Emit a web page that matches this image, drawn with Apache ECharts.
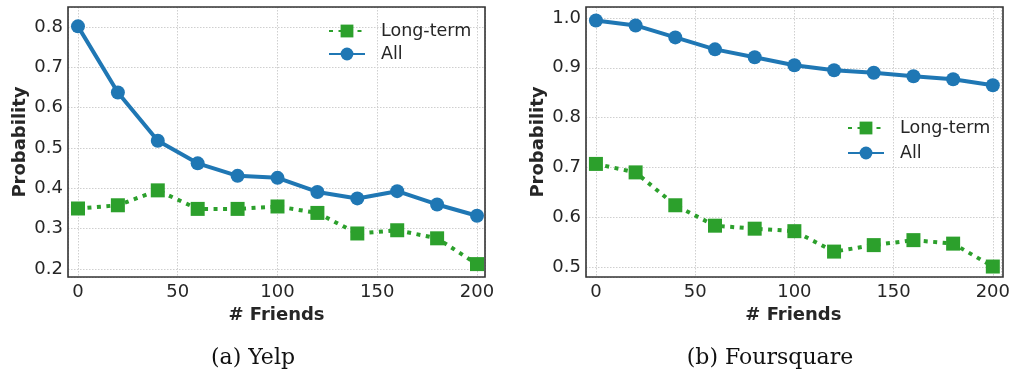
<!DOCTYPE html>
<html>
<head>
<meta charset="utf-8">
<script src="https://cdn.jsdelivr.net/npm/echarts@6/dist/echarts.min.js"></script>
<style>
html,body{margin:0;padding:0;background:#fff;}
#c{width:1013px;height:377px;}
</style>
</head>
<body>
<div id="c"></div>
<script>
const friends = [0, 20, 40, 60, 80, 100, 120, 140, 160, 180, 200];
const yelpLongTerm = [0.350, 0.358, 0.395, 0.349, 0.349, 0.355, 0.339, 0.288, 0.296, 0.276, 0.212];
const yelpAll = [0.802, 0.638, 0.518, 0.462, 0.431, 0.426, 0.391, 0.375, 0.393, 0.360, 0.332];
const fsLongTerm = [0.707, 0.690, 0.624, 0.583, 0.577, 0.572, 0.531, 0.544, 0.554, 0.547, 0.501];
const fsAll = [0.995, 0.985, 0.961, 0.937, 0.921, 0.905, 0.895, 0.890, 0.883, 0.877, 0.865];
const seriesNames = ['Long-term', 'All'];
const captions = ['(a) Yelp', '(b) Foursquare'];
const xTitle = '# Friends';
const yTitle = 'Probability';

const GREEN = '#2ca02c', BLUE = '#1f77b4', TXT = '#262626';
const pairs = (ys) => friends.map((x, i) => [x, ys[i]]);

const grids = [
  {left: 68, top: 7, width: 417, height: 270},
  {left: 586, top: 7, width: 417, height: 270}
];
const yRanges = [[0.18, 0.85], [0.48, 1.022]];

function xAxis(i) {
  return {
    type: 'value', gridIndex: i, min: -5, max: 204,
    axisLine: {show: false}, axisTick: {show: false},
    splitLine: {show: true, lineStyle: {color: '#cfcfcf', type: [1.5, 1.5], width: 1}},
    axisLabel: {show: true, showMinLabel: false, showMaxLabel: false, color: TXT,
      fontFamily: 'DejaVu Sans', fontSize: 18, margin: 6,
      formatter: v => String(Math.round(v))},
    name: xTitle, nameLocation: 'middle', nameGap: 28,
    nameTextStyle: {fontFamily: 'DejaVu Sans', fontWeight: 'bold', fontSize: 18, color: TXT}
  };
}
function yAxis(i) {
  return {
    type: 'value', gridIndex: i, min: yRanges[i][0], max: yRanges[i][1],
    axisLine: {show: false}, axisTick: {show: false},
    splitLine: {show: true, lineStyle: {color: '#cfcfcf', type: [1.5, 1.5], width: 1}},
    axisLabel: {show: true, showMinLabel: false, showMaxLabel: false, color: TXT,
      fontFamily: 'DejaVu Sans', fontSize: 18, margin: 5,
      formatter: v => v.toFixed(1)},
    name: yTitle, nameLocation: 'middle', nameGap: 39,
    nameTextStyle: {fontFamily: 'DejaVu Sans', fontWeight: 'bold', fontSize: 18, color: TXT}
  };
}
function longSeries(i, ys) {
  return {
    name: seriesNames[0], type: 'line', xAxisIndex: i, yAxisIndex: i, data: pairs(ys),
    symbol: 'rect', symbolSize: 14, showAllSymbol: true,
    lineStyle: {color: GREEN, width: 4, type: [4, 5.5]},
    itemStyle: {color: GREEN}, z: 3, animation: false
  };
}
function allSeries(i, ys) {
  return {
    name: seriesNames[1], type: 'line', xAxisIndex: i, yAxisIndex: i, data: pairs(ys),
    symbol: 'circle', symbolSize: 14, showAllSymbol: true,
    lineStyle: {color: BLUE, width: 4, type: 'solid'},
    itemStyle: {color: BLUE}, z: 3, animation: false
  };
}
function legend(left, top, gap) {
  return {
    data: seriesNames, left: left, top: top, orient: 'vertical', padding: 0,
    itemWidth: 36, itemHeight: 16, itemGap: gap,
    textStyle: {fontFamily: 'DejaVu Sans', fontSize: 17.5, color: TXT, padding: [0, 0, 0, 11]},
    selectedMode: false
  };
}

const borders = grids.map(g => ({
  type: 'rect', z: 100, silent: true,
  shape: {x: g.left, y: g.top, width: g.width, height: g.height},
  style: {fill: null, stroke: '#333', lineWidth: 1.6}
}));

const chart = echarts.init(document.getElementById('c'), null, {renderer: 'canvas'});
chart.setOption({
  backgroundColor: '#fff',
  animation: false,
  grid: grids.map(g => Object.assign({show: false}, g)),
  xAxis: [xAxis(0), xAxis(1)],
  yAxis: [yAxis(0), yAxis(1)],
  legend: [legend(328, 22, 5), legend(847, 119, 7)],
  series: [longSeries(0, yelpLongTerm), allSeries(0, yelpAll), longSeries(1, fsLongTerm), allSeries(1, fsAll)],
  graphic: borders.concat([
    {type: 'text', style: {text: captions[0], x: 253, y: 358, textAlign: 'center', textVerticalAlign: 'middle', font: '22px "DejaVu Serif"', fill: '#111'}},
    {type: 'text', style: {text: captions[1], x: 770, y: 358, textAlign: 'center', textVerticalAlign: 'middle', font: '22px "DejaVu Serif"', fill: '#111'}}
  ])
});
</script>
</body>
</html>
